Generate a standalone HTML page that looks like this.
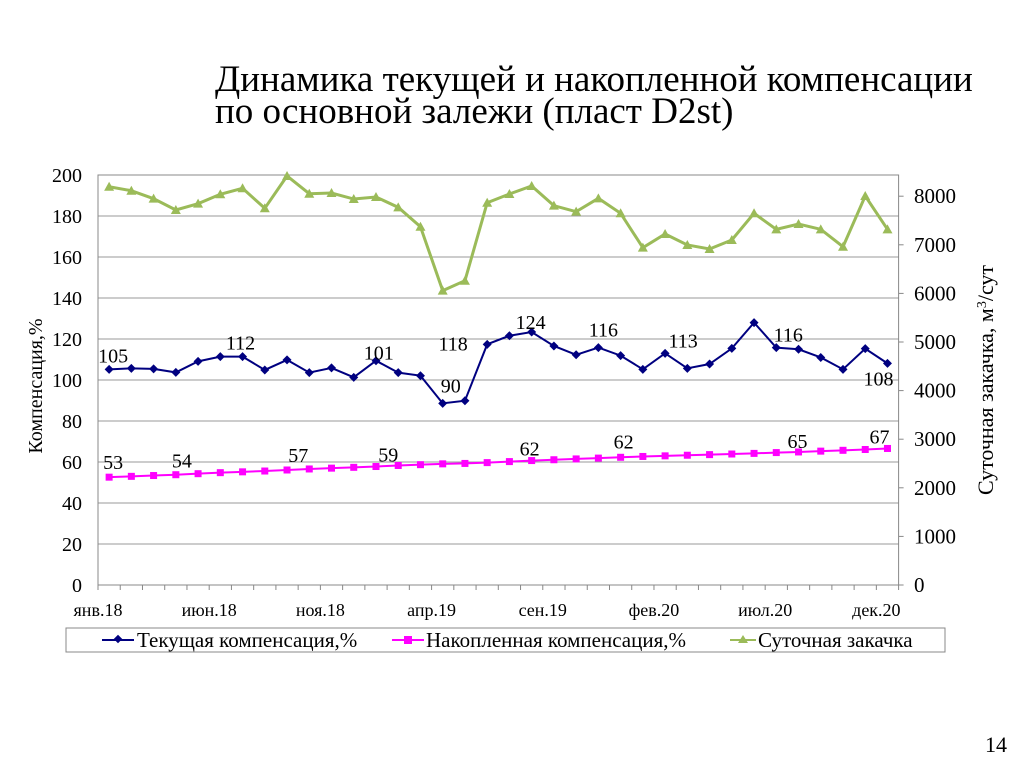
<!DOCTYPE html>
<html><head><meta charset="utf-8"><style>
body{margin:0;background:#fff;width:1024px;height:767px;overflow:hidden;font-family:"Liberation Serif",serif;}
svg text{font-family:"Liberation Serif",serif;}
</style></head><body>
<svg id="chart" width="1024" height="767">
<text x="215" y="91" font-size="37">Динамика текущей и накопленной компенсации</text>
<text x="215" y="123" font-size="37">по основной залежи (пласт D2st)</text>
<text transform="translate(42,386) rotate(-90)" text-anchor="middle" font-size="20">Компенсация,%</text>
<text transform="translate(993,380) rotate(-90)" text-anchor="middle" font-size="22">Суточная закачка, м<tspan baseline-shift="super" font-size="14">3</tspan>/сут</text>
<rect x="66" y="628" width="879" height="24" fill="none" stroke="#888"/>
<g><line x1="102" y1="640" x2="134" y2="640" stroke="#000080" stroke-width="2"/><rect x="115" y="636" width="6" height="6" fill="#000080" transform="rotate(45 118 639)"/><text x="137" y="647" font-size="21">Текущая компенсация,%</text></g>
<g><line x1="392" y1="640" x2="424" y2="640" stroke="#ff00ff" stroke-width="2"/><rect x="404" y="636" width="8" height="8" fill="#ff00ff"/><text x="426" y="647" font-size="21">Накопленная компенсация,%</text></g>
<g><line x1="730" y1="640" x2="756" y2="640" stroke="#9bbb59" stroke-width="2"/><polygon points="743,635 748,643 738,643" fill="#9bbb59"/><text x="758" y="647" font-size="21">Суточная закачка</text></g>
<text x="985" y="752" font-size="22">14</text>
</svg>
<script>
const months=['янв.18','фев.18','мар.18','апр.18','май.18','июн.18','июл.18','авг.18','сен.18','окт.18','ноя.18','дек.18','янв.19','фев.19','мар.19','апр.19','май.19','июн.19','июл.19','авг.19','сен.19','окт.19','ноя.19','дек.19','янв.20','фев.20','мар.20','апр.20','май.20','июн.20','июл.20','авг.20','сен.20','окт.20','ноя.20','дек.20'];
const currentComp=[105.2,105.7,105.4,103.7,109.1,111.4,111.4,104.9,109.8,103.6,105.9,101.3,109.4,103.6,102.1,88.6,89.9,117.4,121.6,123.4,116.6,112.3,115.8,111.9,105.2,113,105.7,107.8,115.4,128,115.8,115,111,105.2,115.3,108.1];
const cumulativeComp=[52.6,53.0,53.4,53.8,54.3,54.8,55.2,55.6,56.1,56.6,57.0,57.4,57.8,58.3,58.7,59.1,59.3,59.7,60.2,60.7,61.1,61.5,61.9,62.3,62.7,63.0,63.3,63.6,63.9,64.2,64.6,64.9,65.3,65.7,66.1,66.6];
const injection=[8195,8113,7949,7716,7846,8039,8163,7751,8416,8051,8066,7942,7984,7771,7372,6056,6261,7866,8045,8210,7805,7682,7956,7648,6941,7222,6996,6914,7099,7648,7318,7428,7318,6961,8004,7318];
const leftTicks=[0,20,40,60,80,100,120,140,160,180,200];
const rightTicks=[0,1000,2000,3000,4000,5000,6000,7000,8000];
const tickLabelIdx=[0,5,10,15,20,25,30,35];
const currentLabelIdx=[0,6,11,15,17,19,22,25,30,35];
const currentLabelText=['105','112','101','90','118','124','116','113','116','108'];
const cumLabelIdx=[0,3,9,13,19,23,31,35];
const cumLabelText=['53','54','57','59','62','62','65','67'];
// label offsets (style, px)
const curDX=[4,-2,25,8,-34,-1,5,18,12,-9], curDY=[-14,-14,-25,-18,-1,-10,-18,-13,-13,15];
const cumDX=[4,6,-11,-10,-2,3,-1,-8], cumDY=[-15,-14,-14,-11,-12,-16,-11,-12];
const L=98,R=898.6,T=175,B=585,step=(R-L)/months.length;
const xC=i=>L+(i+0.5)*step, xB=i=>L+i*step;
const yL=v=>B-(v/200)*(B-T);
const yR=v=>B-v*0.0486;
const NS='http://www.w3.org/2000/svg',svg=document.getElementById('chart');
function mk(t,a,p){const e=document.createElementNS(NS,t);for(const k in a)e.setAttribute(k,a[k]);(p||svg).appendChild(e);return e;}
leftTicks.forEach(v=>{
 if(v>0){const g=mk('line',{x1:L,x2:R,y1:yL(v),y2:yL(v),stroke:'#999'});
 
 }
 const t=mk('text',{x:82,y:yL(v)+7,'text-anchor':'end','font-size':20});t.textContent=v;
 
 
});
rightTicks.forEach(v=>{
 mk('line',{x1:R,x2:R+5,y1:yR(v),y2:yR(v),stroke:'#888'});
 const t=mk('text',{x:914,y:yR(v)+7,'font-size':21});t.textContent=v;
 
 
});
const frame=mk('rect',{x:L,y:T,width:R-L,height:B-T,fill:'none',stroke:'#888'});


for(let i=0;i<=months.length;i++)mk('line',{x1:xB(i),x2:xB(i),y1:B,y2:B+5,stroke:'#888'});
tickLabelIdx.forEach(i=>{const t=mk('text',{x:xB(i),y:616,'text-anchor':'middle','font-size':18});t.textContent=months[i];
 
 });
function series(vals,yf,color,name,marker){
 const g=mk('g',{});
 
 
 mk('polyline',{points:vals.map((v,i)=>xC(i)+','+yf(v)).join(' '),fill:'none',stroke:color,'stroke-width':marker==='tri'?3:2},g);
 vals.forEach((v,i)=>{const x=xC(i),y=yf(v);let m;
  if(marker==='dia')m=mk('polygon',{points:`${x},${y-4.5} ${x+4.5},${y} ${x},${y+4.5} ${x-4.5},${y}`,fill:color},g);
  else if(marker==='sq')m=mk('rect',{x:x-3.5,y:y-3.5,width:7,height:7,fill:color},g);
  else m=mk('polygon',{points:`${x},${y-5} ${x+5},${y+4} ${x-5},${y+4}`,fill:color},g);
  
  });
}
series(injection,yR,'#9bbb59','injection-series','tri');
series(cumulativeComp,yL,'#ff00ff','cumulative-series','sq');
series(currentComp,yL,'#000080','current-series','dia');
currentLabelIdx.forEach((i,k)=>{
 const t=mk('text',{x:xC(i)+curDX[k],y:yL(currentComp[i])+curDY[k]+7,'text-anchor':'middle','font-size':20});t.textContent=currentLabelText[k];
 
 });
cumLabelIdx.forEach((i,k)=>{
 const t=mk('text',{x:xC(i)+cumDX[k],y:yL(cumulativeComp[i])+cumDY[k]+7,'text-anchor':'middle','font-size':20});t.textContent=cumLabelText[k];
 
 });
</script>
</body></html>
